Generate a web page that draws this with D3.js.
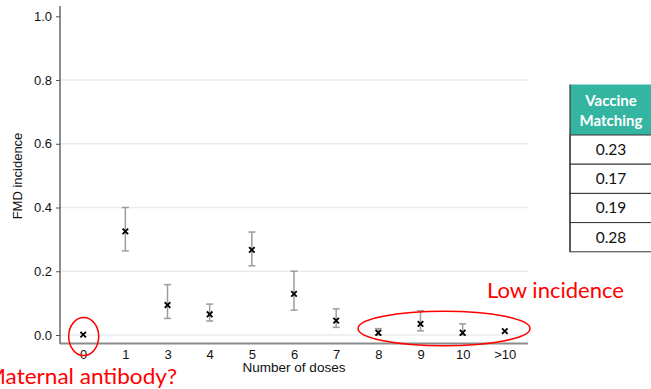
<!DOCTYPE html>
<html>
<head>
<meta charset="utf-8">
<script src="https://cdn.jsdelivr.net/npm/d3@7"></script>
<style>
html,body{margin:0;padding:0;background:#fff;overflow:hidden;}
svg{display:block;}
</style>
</head>
<body>
<svg id="chart" width="651" height="389"></svg>
<script>
// ---- data ----
const categories = ['0','1','3','4','5','6','7','8','9','10','>10'];
const incidence  = [0.001,0.325,0.094,0.065,0.267,0.129,0.045,0.007,0.035,0.007,0.012];
const lowerCI    = [null,0.264,0.052,0.044,0.217,0.078,0.024,0.000,0.013,0.000,null];
const upperCI    = [null,0.400,0.158,0.097,0.323,0.200,0.082,0.020,0.076,0.035,null];
const yTicks     = [0,0.2,0.4,0.6,0.8,1.0];
const gridTicks  = [0,0.2,0.4,0.6,0.8];
const tableHeader = ['Vaccine','Matching'];
const matching    = ['0.23','0.17','0.19','0.28'];
const yTitle = 'FMD incidence';
const xTitle = 'Number of doses';
const note1 = 'Maternal antibody?';
const note2 = 'Low incidence';

const svg = d3.select('#chart');
const font = "'Liberation Sans', Arial, sans-serif";
const cal = "Lato, 'Open Sans', sans-serif";

const y = d3.scaleLinear().domain([0,1]).range([335,16.3]);
const x = d3.scalePoint().domain(categories).range([60,528]).padding(0.55);

// gridlines
svg.append('g').selectAll('line').data(gridTicks).join('line')
  .attr('x1',60).attr('x2',528)
  .attr('y1',d=>y(d)).attr('y2',d=>y(d))
  .attr('stroke','#e6edf2').attr('stroke-width',1.5);

// y axis
const ya = svg.append('g').attr('transform','translate(60,0)')
  .call(d3.axisLeft(y).tickValues(yTicks).tickFormat(d3.format('.1f')).tickSize(4).tickPadding(4));
ya.select('.domain').remove();
ya.selectAll('.tick line').attr('stroke','#555');
ya.selectAll('.tick text').attr('font-family',font).attr('font-size',13).attr('fill','#111');
svg.append('line').attr('x1',60).attr('x2',60).attr('y1',6).attr('y2',344)
  .attr('stroke','#444').attr('stroke-width',1.2);

// x axis
const xa = svg.append('g').attr('transform','translate(0,343)')
  .call(d3.axisBottom(x).tickSize(0).tickPadding(6));
xa.select('.domain').remove();
xa.selectAll('.tick text').attr('font-family',font).attr('font-size',13).attr('fill','#111')
  .attr('dy','0.71em').attr('y',7);
svg.append('line').attr('x1',60).attr('x2',528).attr('y1',343.5).attr('y2',343.5)
  .attr('stroke','#8c8c8c').attr('stroke-width',1.8);

// titles
svg.append('text').attr('x',294).attr('y',371.5).attr('text-anchor','middle')
  .attr('font-family',font).attr('font-size',13.5).attr('fill','#111').text(xTitle);
svg.append('text').attr('transform','translate(22,176) rotate(-90)').attr('text-anchor','middle')
  .attr('font-family',font).attr('font-size',13).attr('fill','#111').text(yTitle);

// error bars
const rows = categories.map((c,i)=>({c, v:incidence[i], lo:lowerCI[i], hi:upperCI[i]}));
const eb = svg.append('g').selectAll('g').data(rows.filter(d=>d.lo!==null)).join('g')
  .attr('stroke','#9c9c9c').attr('stroke-width',1.5);
eb.append('line').attr('x1',d=>x(d.c)).attr('x2',d=>x(d.c)).attr('y1',d=>y(d.lo)).attr('y2',d=>y(d.hi));
eb.append('line').attr('x1',d=>x(d.c)-3.5).attr('x2',d=>x(d.c)+3.5).attr('y1',d=>y(d.lo)).attr('y2',d=>y(d.lo));
eb.append('line').attr('x1',d=>x(d.c)-3.5).attr('x2',d=>x(d.c)+3.5).attr('y1',d=>y(d.hi)).attr('y2',d=>y(d.hi));

// markers
svg.append('g').selectAll('path').data(rows).join('path')
  .attr('d',d3.symbol(d3.symbolX,22))
  .attr('transform',d=>`translate(${x(d.c)},${y(d.v)})`)
  .attr('stroke','#000').attr('stroke-width',1.8).attr('fill','none');

// red annotations
svg.append('ellipse').attr('cx',x('0')+0.5).attr('cy',y(0)+1.5).attr('rx',15).attr('ry',19)
  .attr('fill','none').attr('stroke','#ff0000').attr('stroke-width',1.5);
svg.append('ellipse').attr('cx',(x('8')+x('>10'))/2+2.5).attr('cy',328.5).attr('rx',86).attr('ry',17.3)
  .attr('fill','none').attr('stroke','#ff0000').attr('stroke-width',1.5);
svg.append('text').attr('x',487).attr('y',298).attr('font-family',cal).attr('font-size',22)
  .attr('fill','#ff0000').attr('textLength',137).attr('lengthAdjust','spacingAndGlyphs').text(note2);
svg.append('text').attr('x',-15).attr('y',384).attr('font-family',cal).attr('font-size',22)
  .attr('fill','#ff0000').attr('textLength',192).attr('lengthAdjust','spacingAndGlyphs').text(note1);

// table
const tx = 570, tw = 82, hTop = 84.5, hH = 50.5, rH = 29.2;
const tg = svg.append('g');
tg.append('rect').attr('x',tx).attr('y',hTop).attr('width',tw).attr('height',hH).attr('fill','#33b5a2');
tableHeader.forEach((t,i)=>{
  tg.append('text').attr('x',tx+tw/2).attr('y',hTop+21+i*20).attr('text-anchor','middle')
    .attr('font-family',cal).attr('font-weight','bold').attr('font-size',15).attr('fill','#fff').text(t);
});
const rowsG = tg.selectAll('g.r').data(matching).join('g').attr('class','r');
rowsG.append('rect').attr('x',tx).attr('y',(d,i)=>hTop+hH+i*rH).attr('width',tw).attr('height',rH)
  .attr('fill','#fff').attr('stroke','#333').attr('stroke-width',1);
rowsG.append('text').attr('x',tx+tw/2).attr('y',(d,i)=>hTop+hH+i*rH+20).attr('text-anchor','middle')
  .attr('font-family',cal).attr('font-size',15.5).attr('fill','#111').text(d=>d);
tg.append('line').attr('x1',tx).attr('x2',tx).attr('y1',hTop).attr('y2',hTop+hH+4*rH)
  .attr('stroke','#333').attr('stroke-width',1.2);
</script>
</body>
</html>
